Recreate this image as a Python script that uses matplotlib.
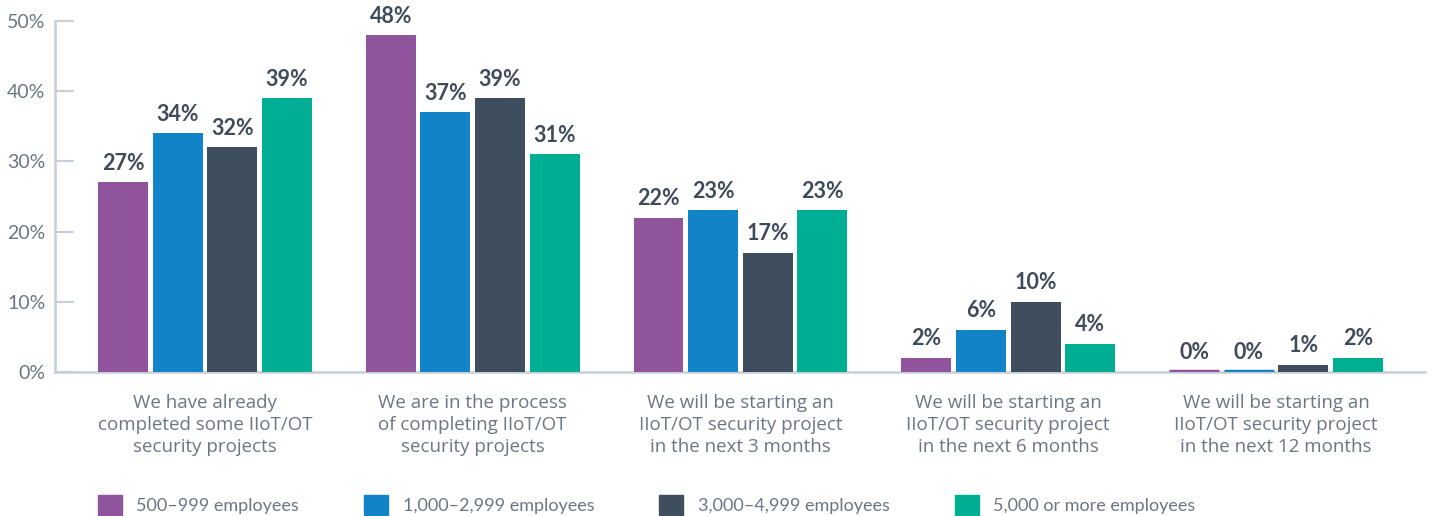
import numpy as np
import matplotlib.pyplot as plt
from matplotlib.patches import Patch

plt.rcParams['font.family'] = ['Lato', 'DejaVu Sans']

categories = [
    "We have already\ncompleted some IIoT/OT\nsecurity projects",
    "We are in the process\nof completing IIoT/OT\nsecurity projects",
    "We will be starting an\nIIoT/OT security project\nin the next 3 months",
    "We will be starting an\nIIoT/OT security project\nin the next 6 months",
    "We will be starting an\nIIoT/OT security project\nin the next 12 months",
]
series_names = ["500–999 employees", "1,000–2,999 employees",
                "3,000–4,999 employees", "5,000 or more employees"]
emp_500_999 = [27, 48, 22, 2, 0]
emp_1000_2999 = [34, 37, 23, 6, 0]
emp_3000_4999 = [32, 39, 17, 10, 1]
emp_5000_plus = [39, 31, 23, 4, 2]
yticks = [0, 10, 20, 30, 40, 50]

colors = ['#8F549C', '#1283C7', '#3E4E5E', '#00AE94']
grid_col = '#C8CED8'
tick_col = '#6B7684'
label_col = '#3F4B5B'

fig = plt.figure(figsize=(14.32, 5.16), dpi=100)
ax = fig.add_axes([0.0384, 0.2795, 0.9566, 0.6795])

x = np.arange(len(categories))
width = 0.1866
step = 0.204
all_series = [emp_500_999, emp_1000_2999, emp_3000_4999, emp_5000_plus]
for i, vals in enumerate(all_series):
    offs = (i - 1.5) * step
    bars = ax.bar(x + offs, vals, width, color=colors[i], label=series_names[i],
                  linewidth=0, zorder=3)
    for b, v in zip(bars, vals):
        if v == 0:
            # zero values still get a thin visible stroke
            ax.plot([b.get_x(), b.get_x() + b.get_width()], [0.15, 0.15],
                    color=colors[i], lw=2.5, solid_capstyle='butt', zorder=4)
        ax.annotate(f"{v}%", (b.get_x() + b.get_width() / 2, v),
                    xytext=(0, 6), textcoords='offset points',
                    ha='center', va='bottom', fontsize=15.5, fontweight='bold',
                    color=label_col)

ax.set_xlim(-0.56, 4.556)
ax.set_ylim(0, 50)
ax.set_yticks(yticks)
ax.set_yticklabels([f"{t}%" for t in yticks])
ax.set_xticks(x)
ax.set_xticklabels(categories, fontsize=13.5, color=tick_col, linespacing=1.3,
                   family=['Open Sans', 'DejaVu Sans'])

for s in ['top', 'right']:
    ax.spines[s].set_visible(False)
for s in ['left', 'bottom']:
    ax.spines[s].set_color(grid_col)
    ax.spines[s].set_linewidth(1.8)
ax.tick_params(axis='y', direction='in', length=14, width=1.5, color=grid_col,
               labelsize=14, labelcolor=tick_col, pad=7)
ax.tick_params(axis='x', length=0, pad=16)

handles = [Patch(color=c) for c in colors]
fig.legend(handles, series_names, loc='center left', bbox_to_anchor=(0.0684, 0.022),
           ncol=4, frameon=False, fontsize=13, labelcolor=tick_col,
           handlelength=1.33, handleheight=1.33, handletextpad=0.8,
           columnspacing=3.6, borderpad=0, borderaxespad=0)

fig.savefig('out.png', dpi=100)
